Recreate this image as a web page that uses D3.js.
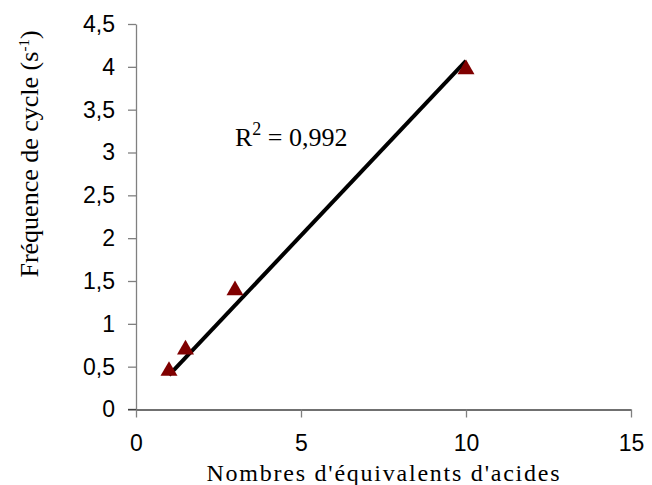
<!DOCTYPE html>
<html><head><meta charset="utf-8">
<script src="https://cdn.jsdelivr.net/npm/d3@7"></script>
<style>body{margin:0;background:#fff;}svg{display:block;}</style>
</head><body>
<script>
const xValues = [1, 1.5, 3, 10];
const yValues = [0.45, 0.70, 1.39, 3.97];
const trendX = [1, 10];
const trendY = [0.40, 4.07];
const xTicks = [0, 5, 10, 15];
const yTicks = [0, 0.5, 1, 1.5, 2, 2.5, 3, 3.5, 4, 4.5];
const r2Label = "0,992";
const xTitle = "Nombres d'équivalents d'acides";

const W = 652, H = 485;
const svg = d3.select("body").append("svg").attr("width", W).attr("height", H);

const x = d3.scaleLinear().domain([0, 15]).range([136, 631]);
const y = d3.scaleLinear().domain([0, 4.5]).range([409.5, 24]);
const fmt = d => String(d).replace(".", ",");

// y axis
const ya = svg.append("g").attr("transform", `translate(${x(0)},0)`)
  .call(d3.axisLeft(y).tickValues(yTicks).tickSize(8).tickSizeOuter(0).tickPadding(13).tickFormat(fmt));
ya.select(".domain").attr("stroke", "#808080").attr("stroke-width", 1.3);
ya.selectAll(".tick line").attr("stroke", "#808080").attr("stroke-width", 1.3);
ya.selectAll(".tick text").attr("font-family", "Liberation Sans, Arial, sans-serif").attr("font-size", 23).attr("fill", "#000");

// x axis
const xa = svg.append("g").attr("transform", `translate(0,${y(0)})`)
  .call(d3.axisBottom(x).tickValues(xTicks).tickSize(8).tickSizeOuter(0).tickPadding(17).tickFormat(fmt));
xa.select(".domain").attr("stroke", "#404040").attr("stroke-width", 1.3);
xa.selectAll(".tick line").attr("stroke", "#808080").attr("stroke-width", 1.3);
xa.selectAll(".tick text").attr("font-family", "Liberation Sans, Arial, sans-serif").attr("font-size", 23).attr("fill", "#000");
svg.append("line").attr("x1", x(0) - 8).attr("x2", x(0)).attr("y1", y(0)).attr("y2", y(0)).attr("stroke", "#404040").attr("stroke-width", 1.3);

// trend line
svg.append("path")
  .datum(trendX.map((d, i) => [d, trendY[i]]))
  .attr("d", d3.line().x(d => x(d[0])).y(d => y(d[1])))
  .attr("stroke", "#000").attr("stroke-width", 4).attr("fill", "none");

// points
svg.selectAll(".pt").data(xValues.map((d, i) => [d, yValues[i]])).enter()
  .append("path")
  .attr("transform", d => `translate(${x(d[0])},${y(d[1])})`)
  .attr("d", d3.symbol().type(d3.symbolTriangle).size(125))
  .attr("fill", "#800000");

// R² label
const r2 = svg.append("text").attr("x", 235).attr("y", 146)
  .attr("font-family", "Liberation Serif, Times New Roman, serif").attr("font-size", 26).attr("fill", "#000");
r2.append("tspan").text("R");
r2.append("tspan").attr("dy", -11).attr("font-size", 18).text("2");
r2.append("tspan").attr("dy", 11).text(" = " + r2Label);

// x title
svg.append("text").attr("x", 383).attr("y", 481).attr("text-anchor", "middle")
  .attr("font-family", "Liberation Serif, Times New Roman, serif").attr("font-size", 24)
  .attr("textLength", 353).attr("lengthAdjust", "spacing").attr("fill", "#000")
  .text(xTitle);

// y title
const yt = svg.append("text").attr("transform", "translate(38,154) rotate(-90)").attr("text-anchor", "middle")
  .attr("font-family", "Liberation Serif, Times New Roman, serif").attr("font-size", 26).attr("fill", "#000");
yt.append("tspan").text("Fréquence de cycle (s");
yt.append("tspan").attr("dy", -9).attr("font-size", 15).text("-1");
yt.append("tspan").attr("dy", 9).text(")");
</script>
</body></html>
